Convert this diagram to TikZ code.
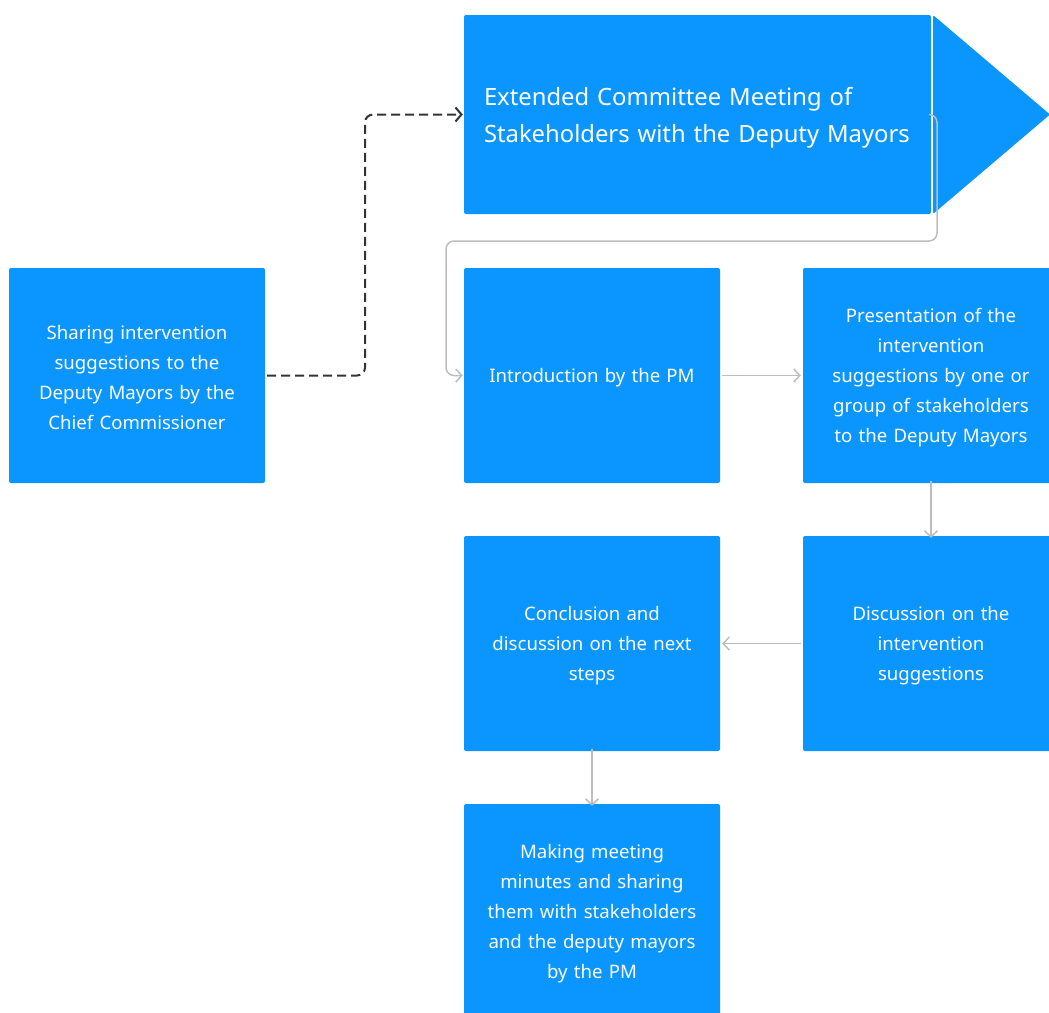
\documentclass[tikz,border=0pt]{standalone}
\usepackage{fontspec}
\setmainfont{Noto Sans}
\usetikzlibrary{arrows.meta}
\definecolor{boxblue}{HTML}{0A96FE}
\definecolor{linegray}{HTML}{BDBDBD}
\definecolor{dashgray}{HTML}{333333}
\tikzset{
  stepbox/.style={fill=boxblue, rounded corners=2pt, minimum width=256pt, minimum height=215pt,
    text width=230pt, align=center, inner sep=0pt, text=white,
    font=\fontsize{18.6}{30}\selectfont, execute at begin node={\rule{0pt}{19pt}}},
  titlebox/.style={fill=boxblue, rounded corners=2pt, minimum width=467pt, minimum height=199pt, inner sep=0pt},
  titletext/.style={text width=427pt, align=left, inner sep=0pt, text=white,
    font=\fontsize{23.8}{37}\selectfont},
  grayarrow/.style={draw=linegray, line width=1.5pt, -{Straight Barb[length=6pt,width=13pt,line width=1.5pt]}},
  dasharrow/.style={draw=dashgray, line width=2pt, dash pattern=on 9pt off 5pt,
    -{Straight Barb[length=6pt,width=14pt,line width=2pt]}, rounded corners=8pt},
}
\begin{document}
\begin{tikzpicture}[x=1pt,y=-1pt]
\useasboundingbox (0,0) rectangle (1049,1012);
\clip (0,0) rectangle (1049,1012);
\node[titlebox] (top) at (697.5,114.5) {};
\node[titletext] (toptext) at (697.5,117.5) {Extended Committee Meeting of\\Stakeholders with the Deputy Mayors};
\fill[boxblue, rounded corners=1.5pt] (933,15) -- (1050,114.5) -- (933,214) -- cycle;
\node[stepbox] (left) at (137,375.5) {Sharing intervention\\suggestions to the\\Deputy Mayors by the\\Chief Commissioner};
\node[stepbox] (intro) at (592,375.5) {Introduction by the PM};
\node[stepbox] (pres) at (931,375.5) {Presentation of the\\intervention\\suggestions by one or\\group of stakeholders\\to the Deputy Mayors};
\node[stepbox] (concl) at (592,643.5) {Conclusion and\\discussion on the next\\steps};
\node[stepbox] (disc) at (931,643.5) {Discussion on the\\intervention\\suggestions};
\node[stepbox] (mins) at (592,911.5) {Making meeting\\minutes and sharing\\them with stakeholders\\and the deputy mayors\\by the PM};
\coordinate (c1) at (937,114.5);
\coordinate (c2) at (937,241);
\coordinate (c3) at (446,241);
\coordinate (c4) at (446,375.5);
\draw[grayarrow, rounded corners=8pt] (top.east) -- (c1) -- (c2) -- (c3) -- (c4) -- ([xshift=-1pt]intro.west);
\coordinate (d1) at (365,375.5);
\coordinate (d2) at (365,114.5);
\draw[dasharrow] ([xshift=2pt]left.east) -- (d1) -- (d2) -- ([xshift=-1pt]top.west);
\draw[grayarrow] ([xshift=2pt]intro.east) -- ([xshift=-2pt]pres.west);
\draw[grayarrow] ([yshift=2pt]pres.south) -- ([yshift=-2pt]disc.north);
\draw[grayarrow] ([xshift=-2pt]disc.west) -- ([xshift=2pt]concl.east);
\draw[grayarrow] ([yshift=2pt]concl.south) -- ([yshift=-2pt]mins.north);
\end{tikzpicture}
\end{document}
